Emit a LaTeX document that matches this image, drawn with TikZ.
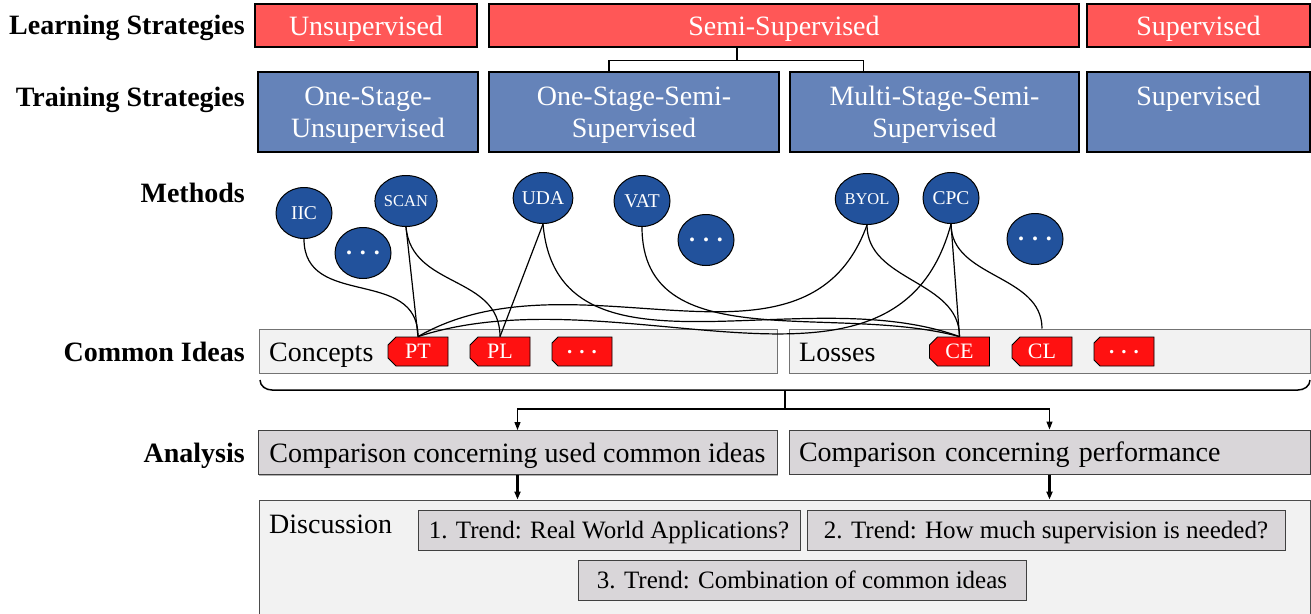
\documentclass[tikz,border=0pt]{standalone}
\usepackage{fontspec}
\setmainfont{Liberation Serif}
\usepackage{tikz}
\usetikzlibrary{positioning, calc, shapes.geometric, shapes.misc, arrows.meta, shadows}

\definecolor{lsred}{HTML}{FF5757}
\definecolor{tsblue}{HTML}{6583B9}
\definecolor{mblue}{HTML}{22529C}
\definecolor{tagred}{HTML}{FF1111}
\definecolor{idgray}{HTML}{F2F2F2}
\definecolor{angray}{HTML}{D9D6D9}
\newcommand\fsz[2]{\fontsize{#1}{#2}\selectfont}

\begin{document}
\begin{tikzpicture}[x=1pt, y=1pt,
        hd/.style={font=\fsz{28}{31}\bfseries, anchor=base east, inner sep=0},
        lsbox/.style={draw, line width=1.5, fill=lsred, text=white, minimum height=43, inner sep=0,
          text height=22, text depth=3, font=\fsz{28}{31}},
        tsbox/.style={draw, line width=1.5, fill=tsblue, text=white, minimum height=80, inner sep=0,
          align=center, text depth=0, font=\fsz{28}{31.5}},
        mth/.style={ellipse, draw, line width=1, fill=mblue, text=white, minimum width=56, minimum height=51, inner sep=0},
        tag/.style={chamfered rectangle, chamfered rectangle corners={north west, south west},
          chamfered rectangle xsep=4, chamfered rectangle ysep=4, draw, line width=0.8, fill=tagred,
          text=white, minimum width=60, minimum height=29, inner sep=0, text height=17, text depth=3,
          font=\fsz{22}{24}},
        ideas/.style={draw=black!55, line width=1, fill=idgray, minimum height=44, inner sep=0},
        anbox/.style={draw=black!75, line width=1, fill=angray, minimum height=44, inner xsep=10, inner ysep=0,
          text height=22, text depth=3, font=\fsz{28}{31},
          drop shadow={shadow xshift=1.2pt, shadow yshift=-1.2pt, fill=black!60}},
        trbox/.style={draw=black!75, line width=1, fill=angray, minimum height=40, inner sep=0,
          text height=20, text depth=3, font=\fsz{25}{28},
          drop shadow={shadow xshift=1.2pt, shadow yshift=-1.2pt, fill=black!60}},
        txt/.style={anchor=base west, inner sep=0, font=\fsz{28}{31}},
        ln/.style={line width=1.2},
        arr/.style={line width=1.2, -{Triangle[length=8, width=6]}},
        arrb/.style={line width=2.2, -{Triangle[length=8, width=6]}}
      ]
      \useasboundingbox (0,0) rectangle (1311,-613);

      % row labels
      \node[hd] (lls) at (245,-34) {Learning Strategies};
      \node[hd] (lts) at (245,-106) {Training Strategies};
      \node[hd] (lme) at (245,-202) {Methods};
      \node[hd] (lci) at (245,-361) {Common Ideas};
      \node[hd] (lan) at (245,-462) {Analysis};

      % learning strategies
      \node[lsbox, minimum width=222] (uns) at (366,-25.5) {Unsupervised};
      \node[lsbox, minimum width=590] (semi) at (784,-25.5) {Semi-Supervised};
      \node[lsbox, minimum width=223] (sup) at (1198.5,-25.5) {Supervised};

      % training strategies
      \node[tsbox, minimum width=220] (osu) at (368,-112) {One-Stage-\\Unsupervised};
      \node[tsbox, minimum width=290] (oss) at (634,-112) {One-Stage-Semi-\\Supervised};
      \node[tsbox, minimum width=289] (mss) at (934.5,-112) {Multi-Stage-Semi-\\Supervised};
      \node[tsbox, minimum width=223] (sts) at (1198.5,-112) {Supervised\\\mbox{}};

      \draw[ln] ([xshift=-47]semi.south) -- ++(0,-13) coordinate (sj);
      \draw[ln] (sj) -| ([xshift=-25]oss.north);
      \draw[ln] (sj) -| ([xshift=-71]mss.north);

      % methods
      \foreach \n/\t/\x/\y/\f in {iic/IIC/304/213/19.5, scan/SCAN/406/201/16.5, uda/UDA/543/198/19.5,
          vat/VAT/642/201/19.5, byol/BYOL/867/199/16.5, cpc/CPC/951/198/19.5} {
        \node[mth, font=\fsz{\f}{\f}] (\n) at (\x,-\y) {\t};
      }
      \foreach \n/\x/\y in {md1/363/253, md2/706/240, md3/1035/239} {
        \node[mth, font=\fsz{24}{24}\bfseries] (\n) at (\x,-\y) {. . .};
      }

      % common ideas
      \node[ideas, minimum width=518] (conc) at (518,-351) {};
      \node[ideas, minimum width=521] (loss) at (1049.5,-351) {};
      \node[txt] (tconc) at (269,-361) {Concepts};
      \node[txt] (tloss) at (799,-361) {Losses};
      \foreach \n/\t/\x in {pt/PT/418, pl/PL/500, ce/CE/959.5, cl/CL/1042} {
        \node[tag] (\n) at (\x,-351.5) {\t};
      }
      \foreach \n/\x in {cd1/582, cd2/1124} {
        \node[tag, text height=4, text depth=0, font=\fsz{21}{21}\bfseries] (\n) at (\x,-351.5) {. . .};
      }
      \coordinate (clt) at (cl.north |- loss.north);

      % method -> idea links
      \draw[ln] (iic.south) to[out=-90, in=90, looseness=1.2] (pt.north);
      \draw[ln] (scan.south) -- (pt.north);
      \draw[ln] (scan.south) to[out=-85, in=90, looseness=1.1] (pl.north);
      \draw[ln] (uda.south) -- (pl.north);
      \draw[ln] (uda.south) to[out=-85, in=160] (ce.north);
      \draw[ln] (vat.south) to[out=-90, in=165] (ce.north);
      \draw[ln] (pt.north) to[out=30, in=-110] (byol.south);
      \draw[ln] (pt.north) to[out=18, in=-105] (cpc.south);
      \draw[ln] (byol.south) to[out=-90, in=90] (ce.north);
      \draw[ln] (cpc.south) -- (ce.north);
      \draw[ln] (cpc.south) to[out=-90, in=90] (clt);

      % bracket
      \draw[line width=1.5] (260,-380) to[out=-90, in=180] (272,-390) -- (1298,-390) to[out=0, in=-90] (1310,-380);
      \coordinate (bt) at (785,-390);
      \coordinate (br) at (785,-409);

      % analysis
      \node[anbox, minimum width=519] (an1) at (517.5,-452.5) {Comparison concerning used common ideas};
      \node[anbox, text width=501, align=left] (an2) at (1049.5,-452) {Comparison concerning performance};
      \draw[ln] (bt) -- (br);
      \draw[arr] (br) -| (an1.north);
      \draw[arr] (br) -| (an2.north);

      % discussion
      \node[ideas, draw=black!70, minimum width=1051, minimum height=120] (disc) at (784.5,-560) {};
      \node[txt] (tdisc) at (269,-533) {Discussion};
      \node[trbox, minimum width=382] (tr1) at (609,-530) {1. Trend: Real World Applications?};
      \node[trbox, minimum width=478] (tr2) at (1046,-530) {2. Trend: How much supervision is needed?};
      \node[trbox, minimum width=448] (tr3) at (802,-580) {3. Trend: Combination of common ideas};
      \draw[arrb] (an1.south) -- (an1.south |- disc.north);
      \draw[arrb] (an2.south) -- (an2.south |- disc.north);
    \end{tikzpicture}
\end{document}
